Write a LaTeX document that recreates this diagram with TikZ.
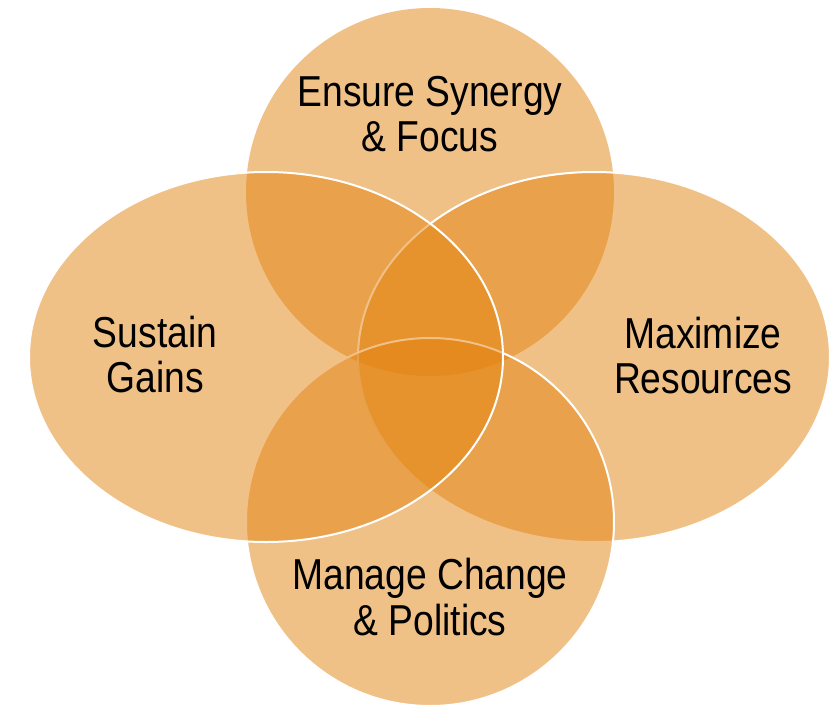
\documentclass[tikz,border=0pt]{standalone}
\usepackage{fontspec}
\setmainfont{Liberation Sans}[FakeStretch=0.86]
\definecolor{vennorange}{RGB}{226,131,16}
\begin{document}
\begin{tikzpicture}[x=1pt,y=-1pt,
  petal/.style={fill=vennorange, fill opacity=0.5},
  rim/.style={draw=white, line width=2pt},
  lbl/.style={anchor=base, inner sep=0pt, text=black, font=\fontsize{43.3}{45}\selectfont}]
\useasboundingbox (0,0) rectangle (839,707);
% top circle
\path[petal] (430,192) circle [radius=184];
% right ellipse
\path[petal] (594,357) ellipse [x radius=236, y radius=185];
\draw[rim] (594,357) ellipse [x radius=236, y radius=185];
% bottom circle
\path[petal] (430,522) circle [radius=184];
\draw[rim] (430,522) circle [radius=184];
% left ellipse
\path[petal] (266,357) ellipse [x radius=237, y radius=185];
\draw[rim] (266,357) ellipse [x radius=237, y radius=185];
% labels
\node[lbl] (t1) at (430,106) {Ensure Synergy};
\node[lbl] (t2) at (430,151) {\& Focus};
\node[lbl] (l1) at (155,347) {Sustain};
\node[lbl] (l2) at (155,392) {Gains};
\node[lbl] (r1) at (703,348) {Maximize};
\node[lbl] (r2) at (703,393) {Resources};
\node[lbl] (b1) at (430,589) {Manage Change};
\node[lbl] (b2) at (430,635) {\& Politics};
\end{tikzpicture}
\end{document}
